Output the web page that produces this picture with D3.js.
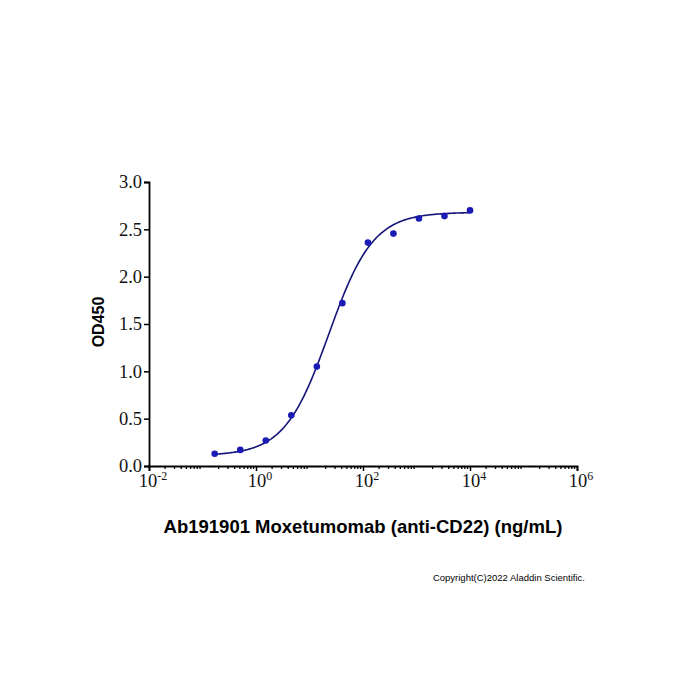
<!DOCTYPE html>
<html>
<head>
<meta charset="utf-8">
<script src="https://cdn.jsdelivr.net/npm/d3@7"></script>
<style>
  body { margin: 0; background: #fff; }
  .serif { font-family: "Liberation Serif", "Times New Roman", "DejaVu Serif", serif; }
  .sans { font-family: "Liberation Sans", Arial, sans-serif; }
</style>
</head>
<body>
<div id="chart"></div>
<script>
// concentrations (ng/mL) and OD450 readings
const concentrations = [0.169, 0.508, 1.524, 4.57, 13.72, 41.15, 123.5, 370.4, 1111, 3333, 10000];
const od450 = [0.13, 0.17, 0.27, 0.535, 1.05, 1.72, 2.36, 2.455, 2.615, 2.64, 2.70];
// 4PL fit parameters
const fitBottom = 0.11, fitTop = 2.68, fitEC50 = 23, fitHill = 1.05;
const xTickExps = [-2, 0, 2, 4, 6];
const yTicks = [0, 0.5, 1.0, 1.5, 2.0, 2.5, 3.0];

const W = 700, H = 700;
const margin = { left: 149, right: 700 - 577, top: 182, bottom: 700 - 466 };
const width = W - margin.left - margin.right;
const height = H - margin.top - margin.bottom;

const svg = d3.select("#chart").append("svg")
  .attr("width", W).attr("height", H);

const g = svg.append("g")
  .attr("transform", `translate(${margin.left},${margin.top})`);

const x = d3.scaleLog().domain([1e-2, 1e6]).range([0, width]);
const y = d3.scaleLinear().domain([0, 3]).range([height, 0]);

// minor ticks on the log axis
const minor = [];
for (let e = -2; e < 6; e++) {
  for (let k = 2; k <= 9; k++) minor.push(k * Math.pow(10, e));
}

g.selectAll("line.minor")
  .data(minor)
  .enter().append("line")
  .attr("x1", d => x(d)).attr("x2", d => x(d))
  .attr("y1", height).attr("y2", height + 3)
  .attr("stroke", "#000").attr("stroke-width", 1.3);

// X axis
const xAxis = g.append("g")
  .attr("transform", `translate(0,${height})`)
  .call(d3.axisBottom(x).tickValues(xTickExps.map(e => Math.pow(10, e))).tickFormat("").tickSizeOuter(0).tickSize(5));
xAxis.select(".domain").attr("stroke-width", 1.8);
xAxis.selectAll(".tick line").attr("stroke-width", 1.5);

const xl = g.append("g");
xTickExps.forEach(e => {
  const t = xl.append("text")
    .attr("class", "serif")
    .attr("x", x(Math.pow(10, e)) + 4)
    .attr("y", height + 21)
    .attr("text-anchor", "middle")
    .style("font-size", "18.5px")
    .attr("fill", "#111");
  t.append("tspan").text("10");
  t.append("tspan").attr("dy", -7).style("font-size", "12px").text(e);
});

// Y axis
const yAxis = g.append("g")
  .call(d3.axisLeft(y).tickValues(yTicks).tickFormat(d3.format(".1f")).tickSizeOuter(0).tickSize(5).tickPadding(2));
yAxis.select(".domain").attr("stroke-width", 1.8);
yAxis.selectAll(".tick line").attr("stroke-width", 1.5);
yAxis.selectAll(".tick text")
  .attr("class", "serif")
  .style("font-size", "18.5px")
  .attr("fill", "#111");

// fitted curve
const fit = c => fitBottom + (fitTop - fitBottom) / (1 + Math.pow(fitEC50 / c, fitHill));
const lo = Math.log10(d3.min(concentrations)), hi = Math.log10(d3.max(concentrations));
const curve = d3.range(0, 201).map(i => {
  const c = Math.pow(10, lo + (hi - lo) * i / 200);
  return [c, fit(c)];
});
g.append("path")
  .datum(curve)
  .attr("fill", "none")
  .attr("stroke", "#14147a")
  .attr("stroke-width", 1.6)
  .attr("d", d3.line().x(d => x(d[0])).y(d => y(d[1])));

// data points
g.selectAll("circle.dot")
  .data(concentrations.map((c, i) => ({ c, v: od450[i] })))
  .enter().append("circle")
  .attr("cx", d => x(d.c))
  .attr("cy", d => y(d.v))
  .attr("r", 3.3)
  .attr("fill", "#1a1ab4");

// axis titles
svg.append("text")
  .attr("class", "sans")
  .attr("transform", `translate(104,${margin.top + height / 2 - 2}) rotate(-90)`)
  .attr("text-anchor", "middle")
  .style("font-weight", "bold")
  .style("font-size", "16px")
  .text("OD450");

svg.append("text")
  .attr("class", "sans")
  .attr("x", 363)
  .attr("y", 533)
  .attr("text-anchor", "middle")
  .style("font-weight", "bold")
  .style("font-size", "18.5px")
  .text("Ab191901 Moxetumomab (anti-CD22) (ng/mL)");

svg.append("text")
  .attr("class", "sans")
  .attr("x", 585)
  .attr("y", 581)
  .attr("text-anchor", "end")
  .style("font-size", "9.5px")
  .text("Copyright(C)2022 Aladdin Scientific.");
</script>
</body>
</html>
